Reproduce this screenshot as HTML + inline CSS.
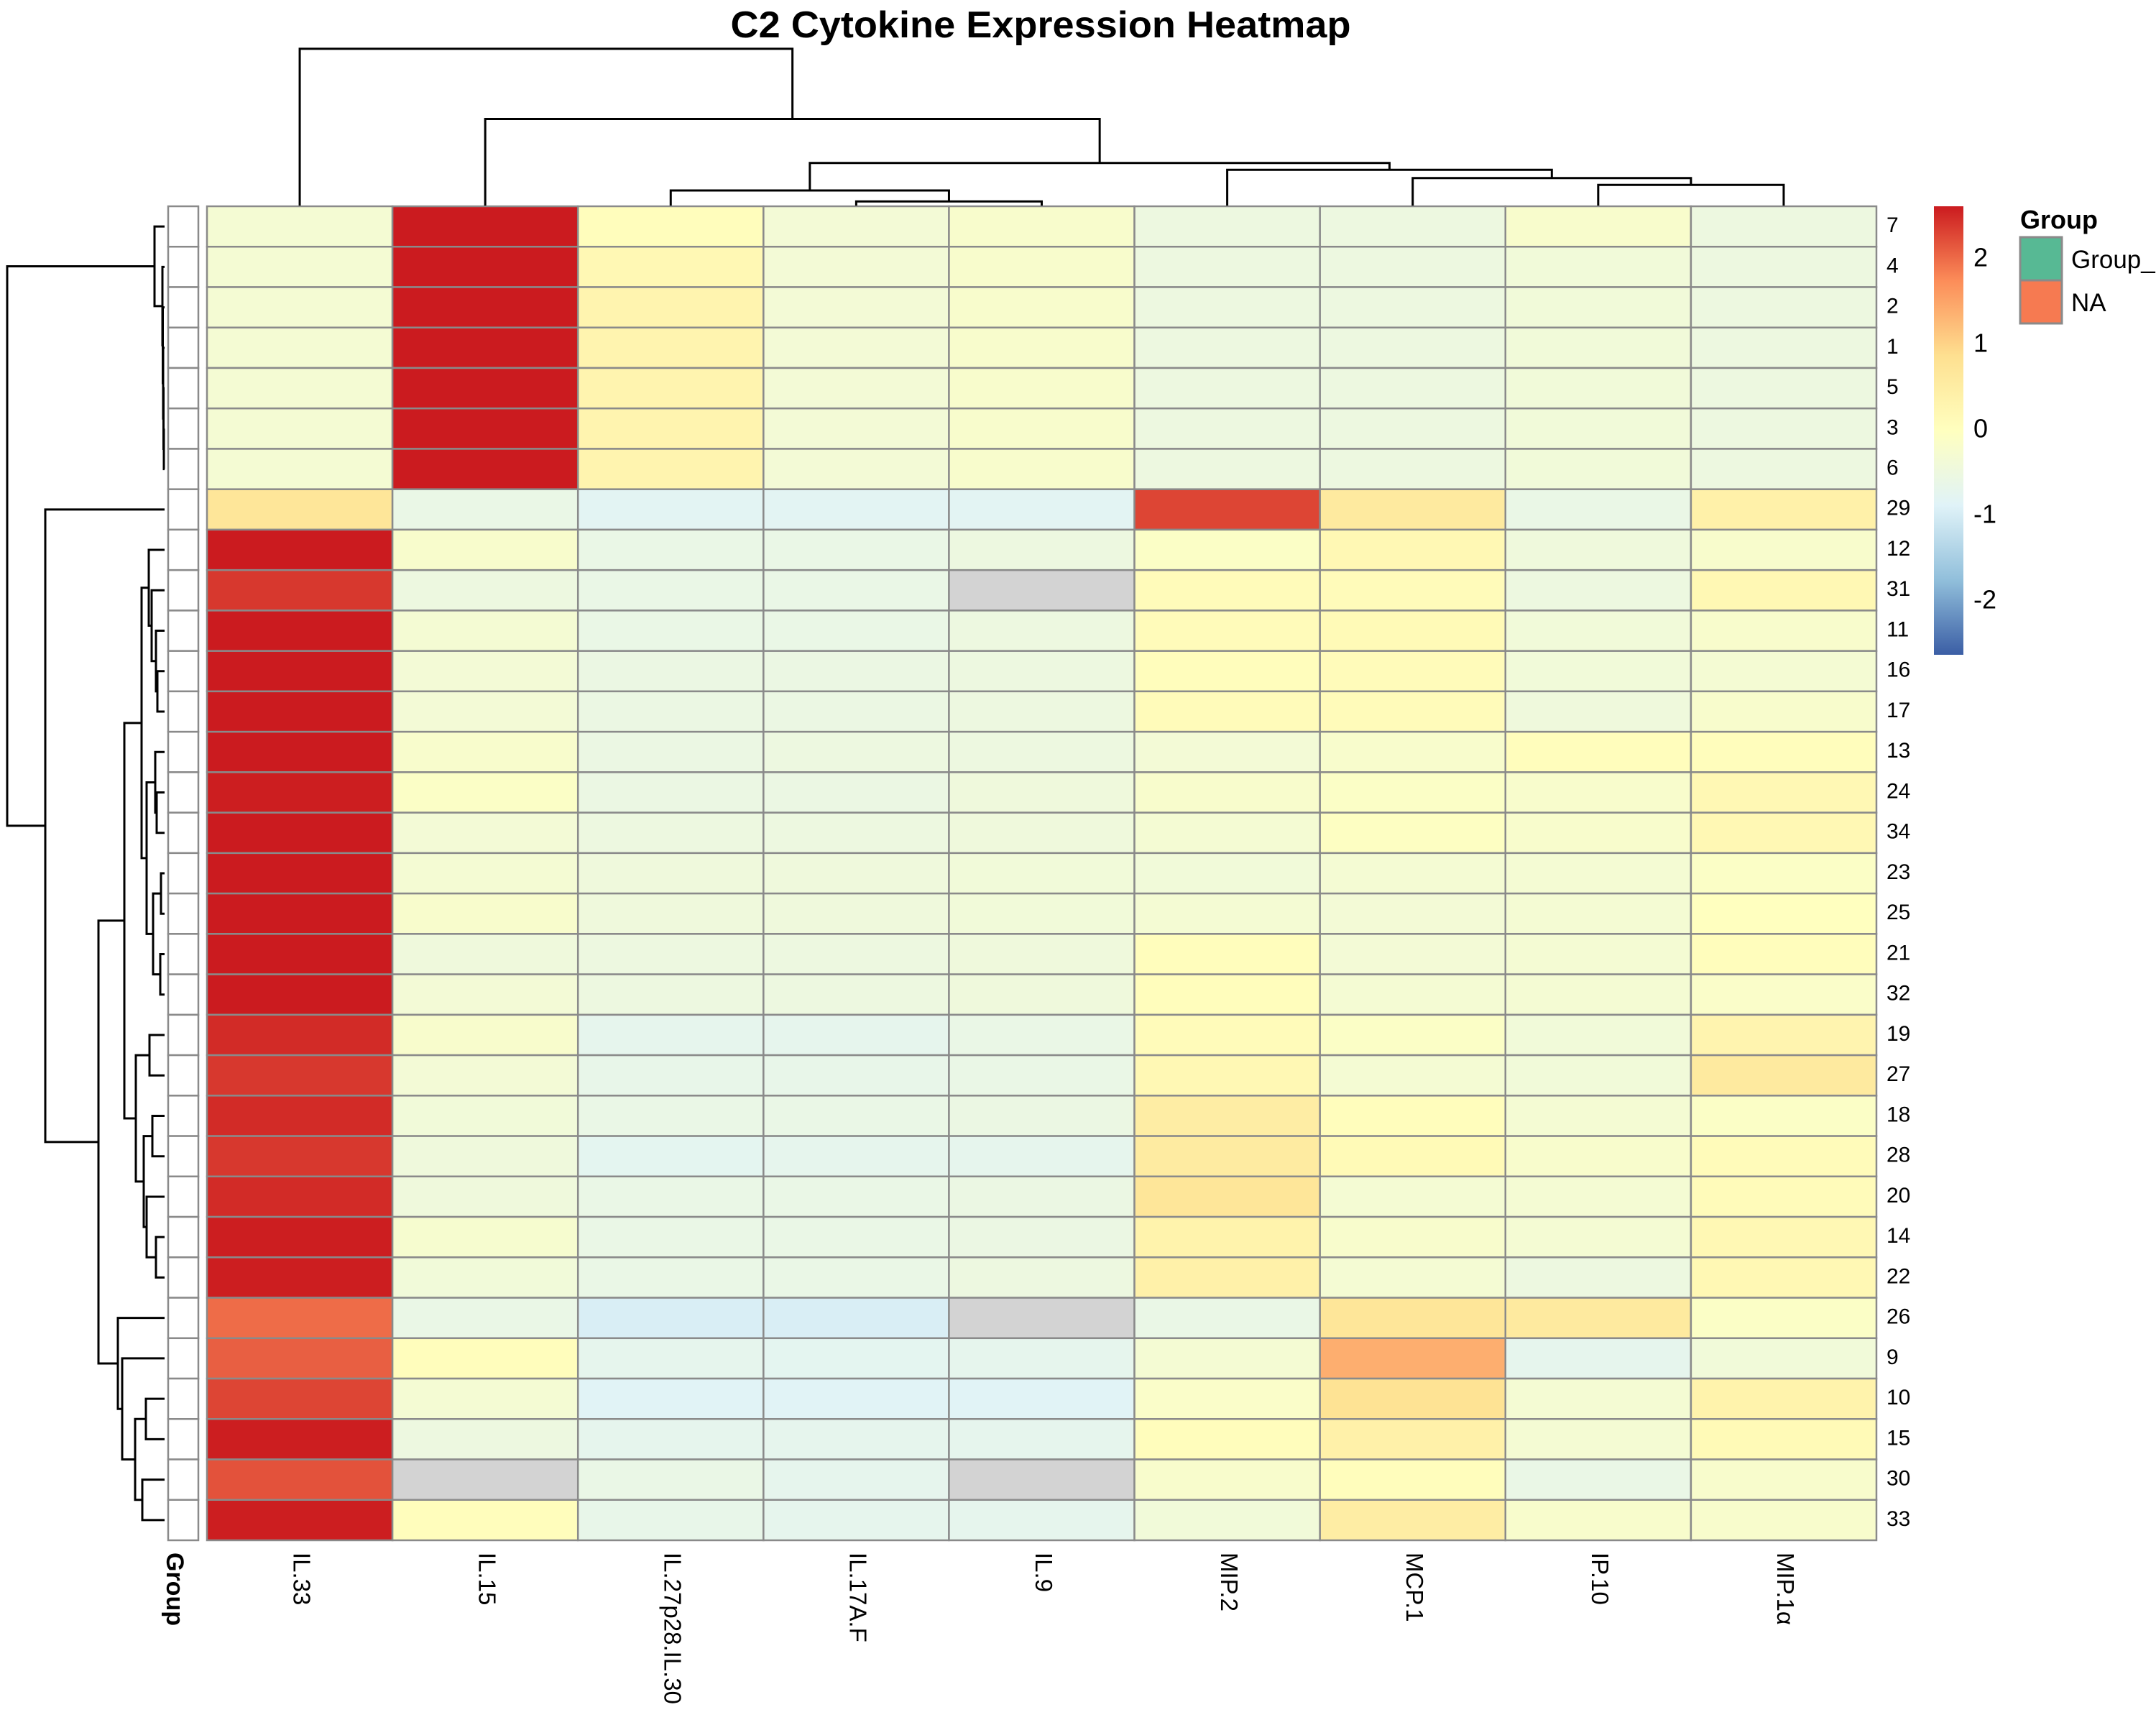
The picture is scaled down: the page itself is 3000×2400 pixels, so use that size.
<!DOCTYPE html>
<html><head><meta charset="utf-8"><style>
html,body{margin:0;padding:0;background:#fff;}
svg{display:block;font-family:"Liberation Sans",Arial,sans-serif;}
</style></head><body>
<svg id="chart" width="3000" height="2400" viewBox="0 0 3000 2400" xmlns="http://www.w3.org/2000/svg">
<text x="1448" y="52" text-anchor="middle" font-size="52" font-weight="bold" textLength="863" lengthAdjust="spacingAndGlyphs">C2 Cytokine Expression Heatmap</text>
<g id="cells"></g>
<g id="annot"></g>
<g id="rowlabels"></g>
<g id="collabels"></g>
<g id="rowdendro"></g>
<g id="coldendro"></g>
<text transform="translate(241,2160) rotate(90)" font-size="34" font-weight="bold" dominant-baseline="middle">Group</text>
<defs><linearGradient id="cbgrad" x1="0" y1="1" x2="0" y2="0">
<stop offset="0" stop-color="#3B5EA5"/><stop offset="0.1667" stop-color="#91BFDB"/><stop offset="0.3333" stop-color="#E0F3F8"/><stop offset="0.5" stop-color="#FFFFBF"/><stop offset="0.6667" stop-color="#FEE090"/><stop offset="0.8333" stop-color="#FC8D59"/><stop offset="1" stop-color="#CB1B1F"/>
</linearGradient></defs>
<rect x="2691" y="287" width="41" height="624" fill="url(#cbgrad)"/>
<g id="cbticks"></g>
<g>
<text x="2811" y="318" font-size="36" font-weight="bold">Group</text>
<rect x="2811" y="330" width="58" height="60" fill="#57B994" stroke="#8a8a8a" stroke-width="3"/>
<rect x="2811" y="390" width="58" height="60" fill="#F67A51" stroke="#8a8a8a" stroke-width="3"/>
<text x="2882" y="373" font-size="35">Group_</text>
<text x="2882" y="433" font-size="35">NA</text>
</g>
</svg>
<script>
const rowNames = ["7","4","2","1","5","3","6","29","12","31","11","16","17","13","24","34","23","25","21","32","19","27","18","28","20","14","22","26","9","10","15","30","33"];
const colNames = ["IL.33","IL.15","IL.27p28.IL.30","IL.17A.F","IL.9","MIP.2","MCP.1","IP.10","MIP.1α"];
const N = null;
const values = [
[-0.3,2.7,0.05,-0.35,-0.2,-0.5,-0.5,-0.2,-0.5],
[-0.3,2.7,0.2,-0.35,-0.2,-0.5,-0.5,-0.4,-0.5],
[-0.3,2.7,0.3,-0.35,-0.2,-0.5,-0.5,-0.4,-0.5],
[-0.3,2.7,0.3,-0.35,-0.2,-0.5,-0.5,-0.4,-0.5],
[-0.3,2.7,0.3,-0.35,-0.2,-0.5,-0.5,-0.4,-0.5],
[-0.3,2.7,0.3,-0.35,-0.2,-0.5,-0.5,-0.4,-0.5],
[-0.3,2.7,0.3,-0.35,-0.2,-0.5,-0.5,-0.4,-0.5],
[0.7,-0.6,-0.8,-0.8,-0.8,2.3,0.6,-0.6,0.4],
[2.7,-0.2,-0.6,-0.6,-0.5,-0.1,0.2,-0.45,-0.2],
[2.4,-0.5,-0.6,-0.6,N,0.1,0.1,-0.5,0.2],
[2.7,-0.3,-0.6,-0.6,-0.5,0.1,0.15,-0.4,-0.2],
[2.7,-0.35,-0.55,-0.55,-0.5,0.05,0.1,-0.4,-0.3],
[2.7,-0.35,-0.55,-0.55,-0.5,0.1,0.1,-0.45,-0.2],
[2.7,-0.2,-0.55,-0.5,-0.5,-0.35,-0.2,0.05,0.05],
[2.6,-0.1,-0.55,-0.55,-0.45,-0.2,-0.1,-0.2,0.2],
[2.7,-0.35,-0.5,-0.5,-0.45,-0.3,-0.05,-0.2,0.2],
[2.7,-0.3,-0.45,-0.45,-0.4,-0.4,-0.3,-0.3,-0.1],
[2.7,-0.2,-0.45,-0.45,-0.4,-0.3,-0.35,-0.3,0.0],
[2.7,-0.45,-0.5,-0.5,-0.45,0.05,-0.35,-0.3,0.05],
[2.7,-0.35,-0.5,-0.5,-0.45,0.05,-0.3,-0.3,-0.15],
[2.5,-0.2,-0.7,-0.7,-0.6,0.1,-0.1,-0.4,0.3],
[2.4,-0.35,-0.65,-0.65,-0.6,0.2,-0.3,-0.4,0.6],
[2.5,-0.4,-0.6,-0.6,-0.55,0.5,0.05,-0.3,-0.1],
[2.4,-0.45,-0.75,-0.7,-0.7,0.55,0.15,-0.2,0.1],
[2.5,-0.45,-0.6,-0.6,-0.55,0.7,-0.3,-0.3,0.1],
[2.6,-0.25,-0.6,-0.6,-0.55,0.35,-0.2,-0.3,0.2],
[2.6,-0.4,-0.6,-0.6,-0.5,0.4,-0.3,-0.5,0.2],
[2.0,-0.6,-0.95,-0.95,N,-0.6,0.7,0.6,-0.1],
[2.1,0.05,-0.7,-0.75,-0.7,-0.3,1.4,-0.7,-0.4],
[2.3,-0.3,-0.85,-0.85,-0.85,-0.15,0.8,-0.3,0.35],
[2.6,-0.5,-0.7,-0.7,-0.7,0.05,0.4,-0.3,0.15],
[2.2,N,-0.6,-0.7,N,-0.2,0.05,-0.6,-0.2],
[2.6,0.05,-0.65,-0.7,-0.7,-0.4,0.5,-0.2,-0.2]
];
const scaleTicks = [2,1,0,-1,-2];
const scaleMin = -2.62, scaleMax = 2.62;
// hclust-style merges: negative = leaf (1-based display order), positive = earlier merge
const rowMergeA = [-6,-5,-4,-3,-2,-1,-12,-11,-10,-9,-15,-14,-17,-19,13,12,10,-21,-23,-26,-25,19,18,17,-30,-32,25,-29,-28,24,-8,6];
const rowMergeB = [-7,1,2,3,4,5,-13,7,8,9,-16,11,-18,-20,14,15,16,-22,-24,-27,20,21,22,23,-31,-33,26,27,28,29,30,31];
const rowMergeH = [1,1.5,2,2.5,3,14,10,12,18,22,11,13,5,6,16,25,32,21,17,12,25,29,40,56,26,31,41,59,65,92,166,219];
const colMergeA = [-8,-7,-6,-4,-3,5,-2,-1];
const colMergeB = [-9,1,2,-5,4,3,6,7];
const colMergeH = [15,20,26,3,11,31,63,114];

const NS="http://www.w3.org/2000/svg";
const X0=288, Y0=287, X1=2611, Y1=2143;
const cw=(X1-X0)/colNames.length, rh=(Y1-Y0)/rowNames.length;
const xCol=i=>X0+cw*i, yRow=r=>Y0+rh*r;
const stops=["#3B5EA5","#91BFDB","#E0F3F8","#FFFFBF","#FEE090","#FC8D59","#CB1B1F"];
function hex(h){return [1,3,5].map(i=>parseInt(h.substr(i,2),16));}
function color(v){
  if(v===null) return "#D3D3D3";
  let t=(v-scaleMin)/(scaleMax-scaleMin); t=Math.max(0,Math.min(1,t))*(stops.length-1);
  const i=Math.min(stops.length-2,Math.floor(t)), f=t-i;
  const a=hex(stops[i]), b=hex(stops[i+1]);
  return "rgb("+a.map((c,k)=>Math.round(c+(b[k]-c)*f)).join(",")+")";
}
function mk(tag,attrs,parent){const e=document.createElementNS(NS,tag);for(const k in attrs)e.setAttribute(k,attrs[k]);parent.appendChild(e);return e;}
const gC=document.getElementById("cells");
values.forEach((row,r)=>row.forEach((v,c)=>{
  const e=mk("rect",{x:xCol(c),y:yRow(r),width:cw,height:rh,fill:color(v),stroke:"#8a8a8a","stroke-width":2.5},gC);
  
  
}));
const gA=document.getElementById("annot");
rowNames.forEach((n,r)=>{
  const e=mk("rect",{x:234,y:yRow(r),width:42,height:rh,fill:"#fff",stroke:"#8a8a8a","stroke-width":2.5},gA);
  
  
});
const gR=document.getElementById("rowlabels");
rowNames.forEach((n,r)=>{
  const t=mk("text",{x:2625,y:yRow(r)+rh/2,"font-size":30,"dominant-baseline":"middle"},gR);
  t.textContent=n;
  
  
});
const gL=document.getElementById("collabels");
colNames.forEach((n,c)=>{
  const t=mk("text",{transform:"translate("+(xCol(c)+cw/2)+",2160) rotate(90)","font-size":33,"dominant-baseline":"middle"},gL);
  t.textContent=n;
  
  
});
const gT=document.getElementById("cbticks");
const cbY=v=>287+(scaleMax-v)/(scaleMax-scaleMin)*624;
scaleTicks.forEach(v=>{
  const t=mk("text",{x:2746,y:cbY(v),"font-size":36,"dominant-baseline":"middle"},gT);
  t.textContent=String(v);
  
  
});
function dendro(A,B,H,leafPos,g,horizontal,base,unit){
  const pos=[],hh=[];
  const get=i=>i<0?[leafPos(-i-1),0]:[pos[i-1],hh[i-1]];
  for(let m=0;m<A.length;m++){
    const [pa,ha]=get(A[m]), [pb,hb]=get(B[m]), h=H[m];
    let d;
    if(horizontal){
      const y=v=>base-v*unit;
      d=`M${pa},${y(ha)}V${y(h)}H${pb}V${y(hb)}`;
    } else {
      const x=v=>base-v*unit;
      d=`M${x(ha)},${pa}H${x(h)}V${pb}H${x(hb)}`;
    }
    const p=mk("path",{d:d,fill:"none",stroke:"#000","stroke-width":3},g);
    
    
    pos.push((pa+pb)/2); hh.push(h);
  }
}
dendro(rowMergeA,rowMergeB,rowMergeH,r=>yRow(r)+rh/2,document.getElementById("rowdendro"),false,229,1);
dendro(colMergeA,colMergeB,colMergeH,c=>xCol(c)+cw/2,document.getElementById("coldendro"),true,286,1.913);
</script>
</body></html>
